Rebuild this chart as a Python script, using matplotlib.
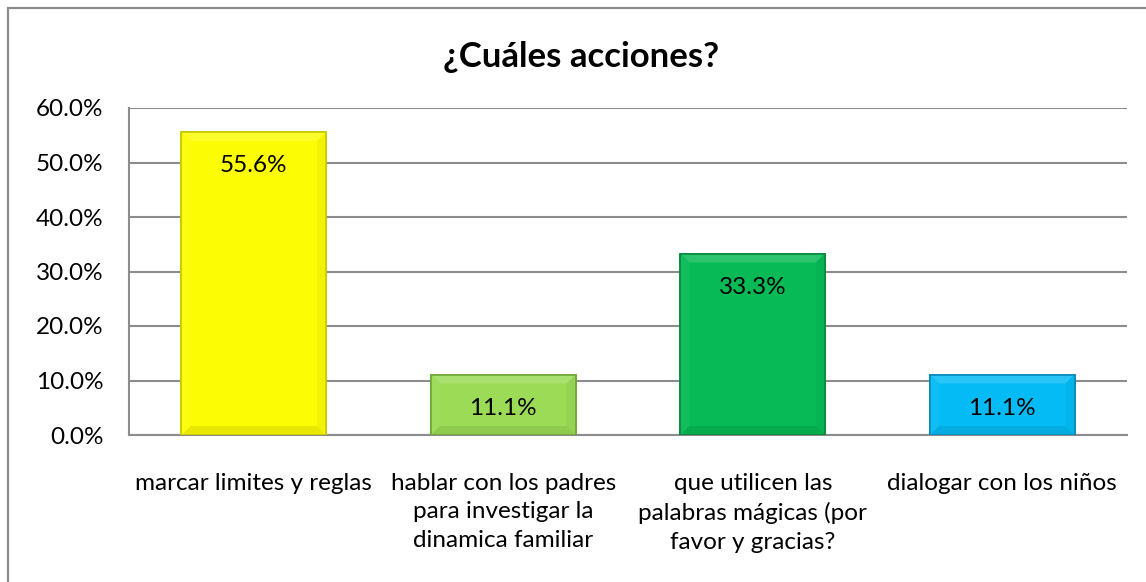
import matplotlib
matplotlib.use("Agg")
import matplotlib.pyplot as plt
from matplotlib.patches import Rectangle, Polygon
from matplotlib.colors import to_rgb
from matplotlib.ticker import FuncFormatter, MultipleLocator

categories = ["marcar limites y reglas",
              "hablar con los padres\npara investigar la\ndinamica familiar",
              "que utilicen las\npalabras mágicas (por\nfavor y gracias?",
              "dialogar con los niños"]
values = [55.6, 11.1, 33.3, 11.1]
labels = ["55.6%", "11.1%", "33.3%", "11.1%"]
colors = ["#FCFC04", "#9BDB55", "#07BA55", "#05BBF5"]
edges = ["#C8C800", "#6FA83A", "#078A40", "#0A8AB8"]
title = "¿Cuáles acciones?"

plt.rcParams['font.family'] = ['Lato', 'DejaVu Sans']

W, H = 1146, 582
fig = plt.figure(figsize=(W/100, H/100), dpi=100)
fig.patch.set_facecolor("white")

fig.patches.append(Rectangle((8/W, -0.05), 1.2, (H-8)/H + 0.05, transform=fig.transFigure,
                             fill=False, edgecolor="#8C8C8C", linewidth=1.6))

ax = fig.add_axes([129/W, (H-435)/H, (1127-129)/W, (435-108)/H])
x = range(len(values))
bars = ax.bar(x, values, width=0.58, color=colors, edgecolor=edges, linewidth=1.2, zorder=3)
ax.set_xlim(-0.5, 3.5)
ax.set_ylim(0, 60)
ax.yaxis.set_major_locator(MultipleLocator(10))
ax.yaxis.set_major_formatter(FuncFormatter(lambda v, p: f"{v:.1f}%"))
ax.grid(axis="y", color="#8C8C8C", linewidth=1.5, zorder=0)
ax.set_axisbelow(True)
for s in ["top", "right"]:
    ax.spines[s].set_visible(False)
for s in ["left", "bottom"]:
    ax.spines[s].set_color("#8C8C8C")
    ax.spines[s].set_linewidth(1.5)
ax.tick_params(axis="both", length=0, labelsize=17.5, colors="black")
ax.tick_params(axis="y", pad=18.5)
ax.tick_params(axis="x", pad=27)
ax.set_xticks(list(x))
ax.set_xticklabels(categories, linespacing=1.46, va="top")

# subtle bevel on bars (computed from bar geometry in display space)
fig.canvas.draw()
inv = ax.transData.inverted()
bev = 9
def mix(c, t, f):
    c = to_rgb(c); t = to_rgb(t)
    return tuple(ci + (ti - ci) * f for ci, ti in zip(c, t))
for b, c in zip(bars, colors):
    (x0, y0), (x1, y1) = ax.transData.transform([(b.get_x(), 0), (b.get_x() + b.get_width(), b.get_height())])
    pts = {
        "top": [(x0, y1), (x1, y1), (x1 - bev, y1 - bev), (x0 + bev, y1 - bev)],
        "bottom": [(x0, y0), (x1, y0), (x1 - bev, y0 + bev), (x0 + bev, y0 + bev)],
        "left": [(x0, y0), (x0, y1), (x0 + bev, y1 - bev), (x0 + bev, y0 + bev)],
        "right": [(x1, y0), (x1, y1), (x1 - bev, y1 - bev), (x1 - bev, y0 + bev)],
    }
    shade = {"top": mix(c, "white", 0.15), "bottom": mix(c, "black", 0.08),
             "left": mix(c, "white", 0.04), "right": mix(c, "black", 0.04)}
    for k, p in pts.items():
        ax.add_patch(Polygon(inv.transform(p), closed=True, facecolor=shade[k],
                             edgecolor="none", zorder=3.5))
    ax.add_patch(Rectangle((b.get_x(), 0), b.get_width(), b.get_height(), fill=False,
                           edgecolor=b.get_edgecolor(), linewidth=1.2, zorder=3.6))

for b, lab in zip(bars, labels):
    ax.annotate(lab, (b.get_x() + b.get_width()/2, b.get_height()),
                xytext=(0, -34), textcoords="offset pixels",
                ha="center", va="center", fontsize=17.5, zorder=4)

fig.text((443+720)/2/W, (H-57)/H, title, ha="center", va="center",
         fontsize=25, fontweight="bold")

fig.savefig("out.png", dpi=100)
